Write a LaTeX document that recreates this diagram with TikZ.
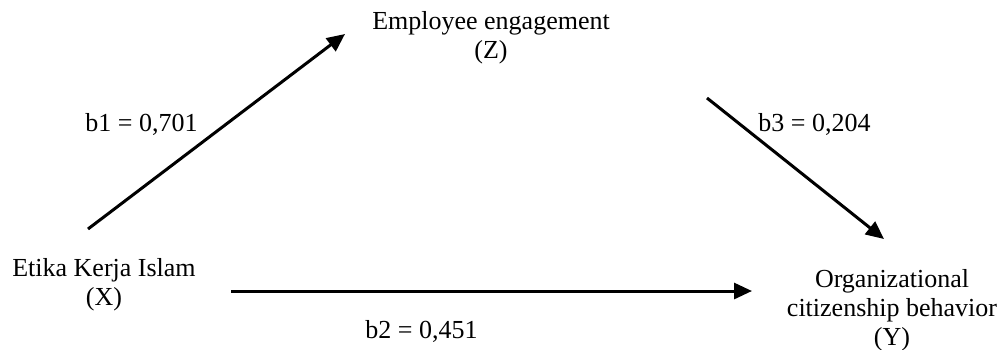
\documentclass[tikz,border=0pt]{standalone}
\usepackage{fontspec}
\setmainfont{Liberation Serif}
\usetikzlibrary{arrows.meta}
\begin{document}
\begin{tikzpicture}[x=0.5pt,y=-0.5pt,
  lbl/.style={font=\fontsize{13}{14.5}\selectfont, align=center, inner sep=0pt},
  conn/.style={line width=1.5pt, -{Triangle[length=9pt,width=8pt]}}]
\useasboundingbox (0,0) rectangle (1004,349);
\node[lbl] (Z) at (491,38) {Employee engagement\\(Z)};
\node[lbl] (X) at (104,285) {Etika Kerja Islam\\(X)};
\node[lbl] (Y) at (892,310) {Organizational\\citizenship behavior\\(Y)};
\node[lbl, anchor=base west] (b1) at (85,131) {b1 = 0,701};
\node[lbl, anchor=base west] (b3) at (758,131) {b3 = 0,204};
\node[lbl, anchor=base west] (b2) at (365,338) {b2 = 0,451};
\coordinate (s1) at (88,229);
\coordinate (e1) at (345,34);
\coordinate (s2) at (707,98);
\coordinate (e2) at (884,239);
\coordinate (s3) at (231,291);
\coordinate (e3) at (752,291);
\draw[conn] (s1) -- (e1);
\draw[conn] (s2) -- (e2);
\draw[conn] (s3) -- (e3);
\end{tikzpicture}
\end{document}
